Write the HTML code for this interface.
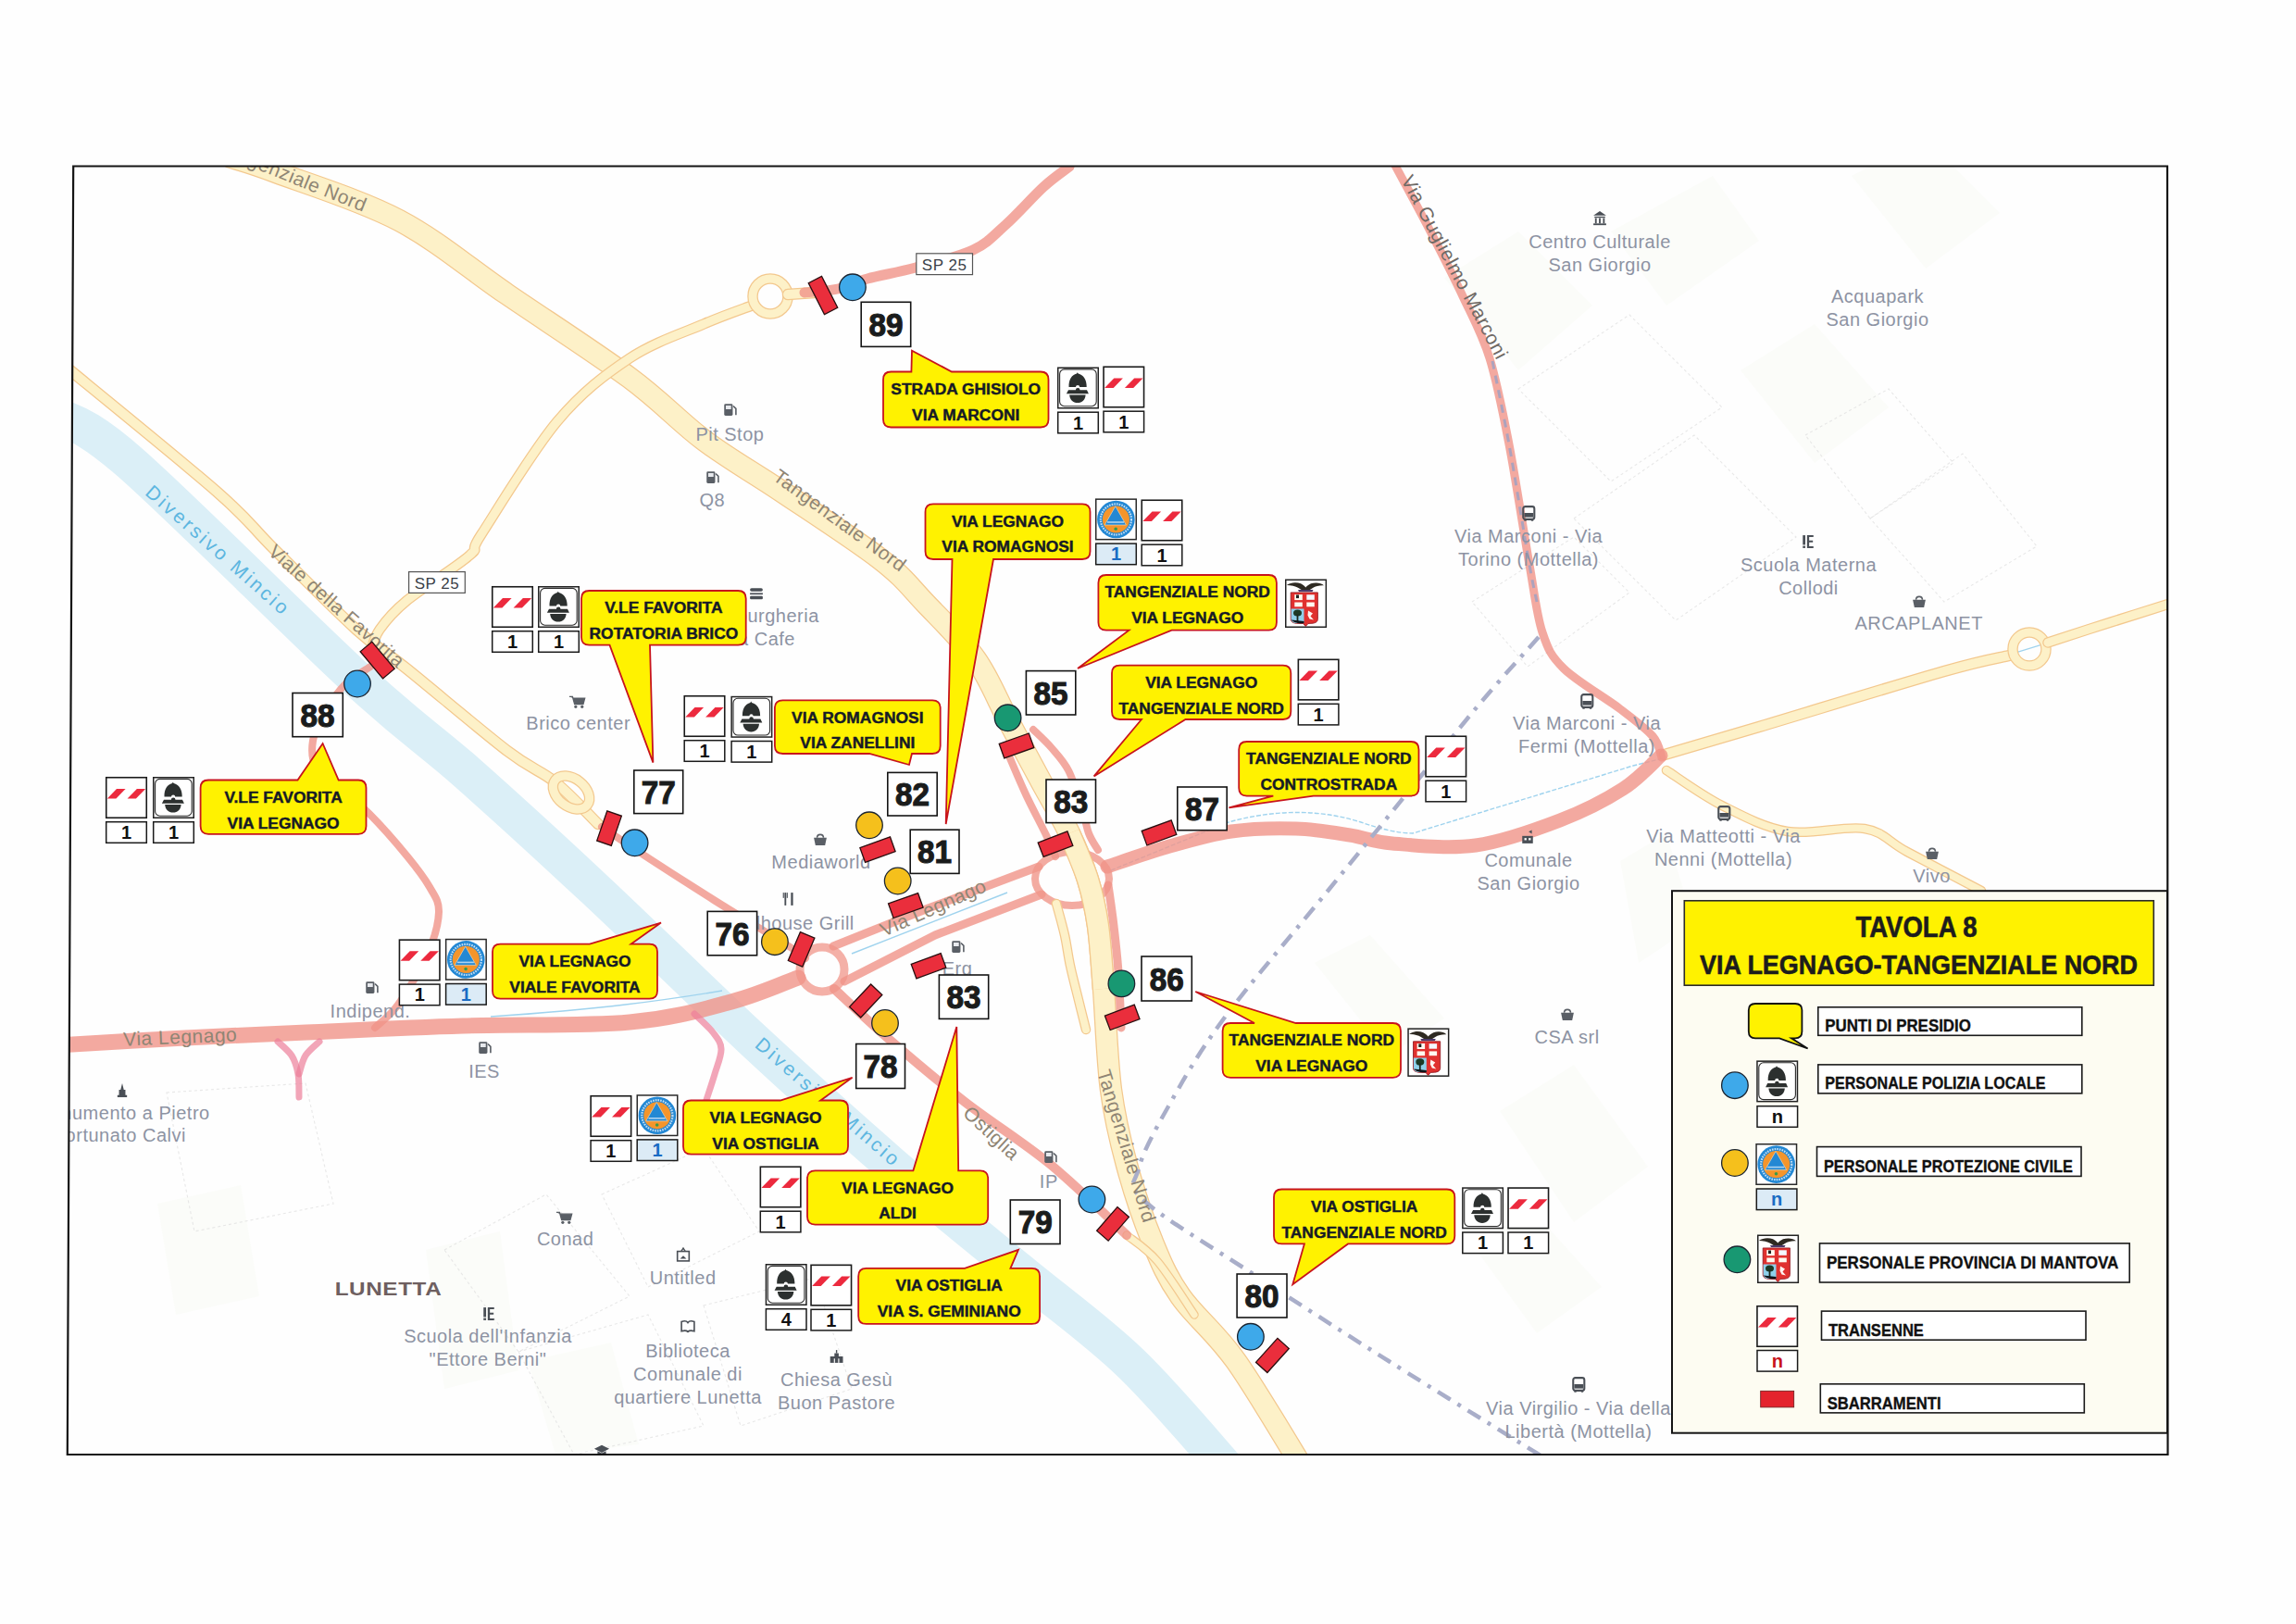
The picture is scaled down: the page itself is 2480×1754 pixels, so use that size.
<!DOCTYPE html>
<html><head><meta charset="utf-8"><style>
html,body{margin:0;padding:0;background:#fff;}
svg{display:block;font-family:"Liberation Sans",sans-serif;}
</style></head><body>
<svg width="2480" height="1754" viewBox="0 0 2480 1754">

<defs>
<clipPath id="mapclip"><path d="M79,180 L2341,180 L2341,1571 L73,1571 Z"/></clipPath>
<g id="ic_helmet">
  <rect x="0.75" y="0.75" width="43.5" height="43.5" fill="#fff" stroke="#222" stroke-width="1.5"/>
  <rect x="2.6" y="2.4" width="39.6" height="39.8" rx="5" fill="#fff" stroke="#2b2b2b" stroke-width="1.1"/>
  <path d="M12.5,21.5 C12.3,13.8 15.6,8.4 21,7.1 L21.8,5.8 L22.7,7.1 C28.1,8.4 31.9,13.8 31.7,21.5 L24.2,21.5 A2.1,2.1 0 0 0 20,21.5 Z" fill="#2c302f"/>
  <path d="M9.9,28.8 L12,24.7 L19.9,24.7 A2.3,2.3 0 0 1 24.5,24.7 L32,24.7 L33.9,28.8 Z" fill="#2c302f"/>
  <path d="M13.2,30 L30.6,30 C30.4,35.2 26.8,38.6 21.9,38.6 C17,38.6 13.4,35.2 13.2,30 Z" fill="#2c302f"/>
</g>
<g id="ic_trans">
  <rect x="0.75" y="0.75" width="43.5" height="43.5" fill="#fff" stroke="#1a1a1a" stroke-width="1.6"/>
  <path d="M1.8,23.4 L11.4,23.4 L21.6,12.9 L12,12.9 Z" fill="#ec2a3e"/>
  <path d="M23.6,23.4 L32.9,23.4 L43.2,12.9 L33.9,12.9 Z" fill="#ec2a3e"/>
</g>
<g id="ic_pc">
  <rect x="0.75" y="0.75" width="43.5" height="43.5" fill="#fff" stroke="#2a2a2a" stroke-width="1.5"/>
  <circle cx="22.4" cy="22.6" r="20.3" fill="#2388d4"/>
  <circle cx="22.4" cy="22.6" r="16.6" fill="none" stroke="#e8f3fb" stroke-width="2.2" stroke-dasharray="1.6 1.1" stroke-opacity="0.8"/>
  <circle cx="22.4" cy="22.6" r="14.6" fill="#f4952c"/>
  <path d="M21.8,8.4 L10.2,28.6 L33.4,28.6 Z" fill="#2388d4" stroke="#f9e0c0" stroke-width="0.6"/>
  <rect x="13" y="24.8" width="18" height="1.6" fill="#cfe6f7" opacity="0.8"/>
  <circle cx="22.2" cy="32.8" r="1.8" fill="#3a9a4a"/>
</g>
<g id="ic_prov">
  <rect x="0.75" y="0.75" width="43.6" height="51" fill="#fff" stroke="#222" stroke-width="1.5"/>
  <path d="M1.8,6.5 C6,3.5 12,2.8 17,4.8 C19.5,6.2 21,7.5 22.3,9 C23.6,7.5 25.5,6 28,4.8 C33,3.2 39,3.8 42,6.8 C38,6.5 33,7.4 30,9.5 C28,11 26,12.5 22.3,12.7 C18.5,12.5 16.5,11 14.5,9.5 C11.5,7.5 6,6.5 1.8,6.5 Z" fill="#2e2a22"/>
  <path d="M14,11.6 L30.5,11.6 L29.5,13.6 L15,13.6 Z" fill="#4a3a6a"/>
  <path d="M6.2,14.4 L35.4,14.4 L35.4,43 C35.4,46 33,47.5 29,47.8 L25,48 L22.3,51 L19.6,48 L12.5,47.8 C8.5,47.5 6.2,46 6.2,43 Z" fill="#e0312f" stroke="#8a1420" stroke-width="0.8"/>
  <rect x="10.3" y="16.6" width="8.5" height="6" fill="#fffaf0"/>
  <rect x="23.3" y="16.8" width="8.5" height="5.5" fill="#f4f8ff"/>
  <rect x="10.3" y="25" width="8.5" height="4.8" fill="#fffaf0"/>
  <rect x="23.3" y="25" width="8.5" height="4.8" fill="#fffaf0"/>
  <path d="M6.6,32 L20.5,32 L20.5,47.6 L12.5,47.6 C8.5,47.3 6.6,45.8 6.6,43 Z" fill="#8fd0ea"/>
  <ellipse cx="13.5" cy="36.5" rx="4.5" ry="3.6" fill="#1c3a26"/>
  <rect x="12.6" y="38" width="1.8" height="8" fill="#1c2a20"/>
  <path d="M6.8,44 C9,47 14,47.8 20.5,47.8 L20.5,45.5 Z" fill="#101418"/>
  <path d="M25,34 L30,37 L27.5,40 L31,44 L26.5,43 L24.5,39 Z" fill="#fff4f0"/>
  <rect x="12" y="17" width="3" height="3.6" fill="#222"/>
</g>
<g id="poi_fuel"><rect x="3" y="3" width="8" height="11" rx="1.2" fill="#5a5f66"/><rect x="4.5" y="4.5" width="5" height="3.5" fill="#e8eaee"/><path d="M11.5,5 L14,7.5 L14,13.5" fill="none" stroke="#5a5f66" stroke-width="1.4"/></g>
<g id="poi_cart"><path d="M1,4 L4,4 L6,11 L14,11 L15.5,5.5 L4.8,5.5" fill="#5a5f66" stroke="#5a5f66" stroke-width="1.2"/><circle cx="7" cy="13.5" r="1.4" fill="#5a5f66"/><circle cx="13" cy="13.5" r="1.4" fill="#5a5f66"/></g>
<g id="poi_basket"><path d="M2,7 L14,7 L12.5,14 L3.5,14 Z" fill="#5a5f66"/><path d="M5,7 C5,3 11,3 11,7" fill="none" stroke="#5a5f66" stroke-width="1.4"/></g>
<g id="poi_bus"><rect x="3" y="2" width="10.5" height="12" rx="2" fill="none" stroke="#4a4f56" stroke-width="1.8"/><rect x="4" y="8" width="8.5" height="4" fill="#4a4f56"/><rect x="4" y="14" width="2" height="1.6" fill="#4a4f56"/><rect x="10.5" y="14" width="2" height="1.6" fill="#4a4f56"/></g>
<g id="poi_museum"><path d="M2,6 L8,2 L14,6 Z" fill="#4a4f56"/><rect x="3" y="7" width="10" height="1.2" fill="#4a4f56"/><rect x="3.5" y="8.5" width="1.6" height="5" fill="#4a4f56"/><rect x="7.2" y="8.5" width="1.6" height="5" fill="#4a4f56"/><rect x="11" y="8.5" width="1.6" height="5" fill="#4a4f56"/><rect x="2" y="13.5" width="12" height="1.6" fill="#4a4f56"/></g>
<g id="poi_school"><rect x="3" y="2" width="2.4" height="9" fill="#4a4f56"/><rect x="3" y="12" width="2.4" height="2" fill="#4a4f56"/><path d="M7,2 L13,2 L13,3.6 L9,3.6 L9,7 L12.5,7 L12.5,8.6 L9,8.6 L9,12.4 L13,12.4 L13,14 L7,14 Z" fill="#4a4f56"/></g>
<g id="poi_food"><rect x="4" y="2" width="1.6" height="12" fill="#4a4f56"/><rect x="2.5" y="2" width="1" height="5" fill="#4a4f56"/><rect x="6" y="2" width="1" height="5" fill="#4a4f56"/><rect x="10" y="2" width="2" height="12" fill="#4a4f56"/></g>
<g id="poi_burger"><rect x="2" y="3" width="12" height="3" rx="1.5" fill="#4a4f56"/><rect x="2" y="7.5" width="12" height="1.5" fill="#4a4f56"/><rect x="2" y="10.5" width="12" height="3" rx="1" fill="#4a4f56"/></g>
<g id="poi_monument"><rect x="5" y="8" width="6" height="6" fill="#4a4f56"/><path d="M6.5,8 L8,2 L9.5,8 Z" fill="#4a4f56"/><rect x="3.5" y="13" width="9" height="2" fill="#4a4f56"/></g>
<g id="poi_gallery"><rect x="2.5" y="5" width="11" height="9" fill="none" stroke="#4a4f56" stroke-width="1.4"/><path d="M5,12 L8,9 L11,12 Z" fill="#4a4f56"/><path d="M6,5 L8,2 L10,5" fill="none" stroke="#4a4f56" stroke-width="1.2"/></g>
<g id="poi_book"><path d="M2,4 C5,3 7,3.5 8,5 C9,3.5 11,3 14,4 L14,13 C11,12 9,12.5 8,13.5 C7,12.5 5,12 2,13 Z" fill="none" stroke="#4a4f56" stroke-width="1.4"/></g>
<g id="poi_church"><rect x="2" y="8" width="12" height="6" fill="#4a4f56"/><rect x="6" y="5" width="4" height="3" fill="#4a4f56"/><rect x="7.4" y="2" width="1.2" height="3" fill="#4a4f56"/><rect x="5.5" y="10" width="1" height="4" fill="#fff"/><rect x="9.5" y="10" width="1" height="4" fill="#fff"/></g>
<g id="poi_town"><rect x="3" y="7" width="10" height="7" fill="#4a4f56"/><rect x="5" y="9" width="2" height="2" fill="#fff"/><rect x="9" y="9" width="2" height="2" fill="#fff"/><path d="M9,3 L12,1.5 L12,5 Z" fill="#4a4f56"/></g>
<g id="poi_grad"><path d="M1,7 L8,3.5 L15,7 L8,10.5 Z" fill="#4a4f56"/><path d="M4,9 L4,12 C6,13.5 10,13.5 12,12 L12,9 L8,11 Z" fill="#4a4f56"/></g>
</defs>

<rect x="0" y="0" width="2480" height="1754" fill="#fefefe"/>
<g clip-path="url(#mapclip)">
<polygon points="1560,300 1640,250 1720,330 1640,400" fill="#f0f5e8" opacity="0.22"/>
<polygon points="1740,250 1850,190 1900,260 1800,330" fill="#f0f5e8" opacity="0.22"/>
<polygon points="2000,190 2080,150 2160,230 2080,290" fill="#f0f5e8" opacity="0.22"/>
<polygon points="1880,400 1960,350 2040,440 1960,500" fill="#f0f5e8" opacity="0.22"/>
<polygon points="1750,930 1800,900 1830,1000 1770,1040" fill="#f0f5e8" opacity="0.22"/>
<polygon points="1420,1040 1480,1010 1560,1100 1500,1140" fill="#f0f5e8" opacity="0.22"/>
<polygon points="1620,1200 1700,1150 1780,1260 1700,1320" fill="#f0f5e8" opacity="0.22"/>
<polygon points="1580,1330 1640,1290 1730,1390 1660,1440" fill="#f0f5e8" opacity="0.22"/>
<polygon points="460,1350 540,1330 560,1480 480,1500" fill="#f0f5e8" opacity="0.22"/>
<polygon points="570,1470 660,1450 690,1560 600,1571" fill="#f0f5e8" opacity="0.22"/>
<polygon points="170,1300 260,1280 280,1400 190,1420" fill="#f0f5e8" opacity="0.22"/>
<polygon points="1640,420 1760,340 1860,440 1740,520" fill="none" stroke="#dedede" stroke-width="1.1" stroke-dasharray="3 3" opacity="0.7"/>
<polygon points="1700,560 1830,470 1940,580 1810,670" fill="none" stroke="#dedede" stroke-width="1.1" stroke-dasharray="3 3" opacity="0.7"/>
<polygon points="2020,560 2120,490 2200,590 2100,650" fill="none" stroke="#dedede" stroke-width="1.1" stroke-dasharray="3 3" opacity="0.7"/>
<polygon points="1590,650 1700,580 1760,640 1650,720" fill="none" stroke="#dedede" stroke-width="1.1" stroke-dasharray="3 3" opacity="0.7"/>
<polygon points="1950,470 2040,420 2110,500 2020,560" fill="none" stroke="#dedede" stroke-width="1.1" stroke-dasharray="3 3" opacity="0.7"/>
<polygon points="480,1350 590,1290 680,1400 560,1460" fill="none" stroke="#dedede" stroke-width="1.1" stroke-dasharray="3 3" opacity="0.7"/>
<polygon points="650,1290 760,1240 820,1330 700,1390" fill="none" stroke="#dedede" stroke-width="1.1" stroke-dasharray="3 3" opacity="0.7"/>
<polygon points="180,1180 330,1170 360,1300 210,1330" fill="none" stroke="#dedede" stroke-width="1.1" stroke-dasharray="3 3" opacity="0.7"/>
<polygon points="560,1460 700,1420 760,1540 620,1571" fill="none" stroke="#dedede" stroke-width="1.1" stroke-dasharray="3 3" opacity="0.7"/>
<polygon points="760,1410 880,1380 920,1500 800,1540" fill="none" stroke="#dedede" stroke-width="1.1" stroke-dasharray="3 3" opacity="0.7"/>
<path d="M60,448 C73.5,456.7 86.8,452.5 141,500 C195.2,547.5 324.3,677.2 385,733 C445.7,788.8 462.2,797.2 505,835 C547.8,872.8 590.8,912.2 642,960 C693.2,1007.8 758.5,1072.3 812,1122 C865.5,1171.7 915,1216.3 963,1258 C1011,1299.7 1057,1336.3 1100,1372 C1143,1407.7 1182.7,1435.3 1221,1472 C1259.3,1508.7 1311.8,1572 1330,1592" fill="none" stroke="#dbeff7" stroke-width="40" stroke-linecap="butt"/>
<path d="M530,1098 C650,1090 720,1080 780,1070" fill="none" stroke="#9fd3ee" stroke-width="1.4"/>
<path d="M920,1030 L1088,964" fill="none" stroke="#9fd3ee" stroke-width="1.4"/>
<path d="M1200,940 L1327,888 C1370,876 1420,872 1470,888 C1490,895 1510,900 1526,900 L1764,827 L1800,818" fill="none" stroke="#9fd3ee" stroke-width="1.4" stroke-dasharray="5 2"/>
<path d="M1900,790 L2340,655" fill="none" stroke="#9fd3ee" stroke-width="1.2"/>
<path d="M250,170 C258,172.7 267.8,174.7 298,186 C328.2,197.3 389.3,216 431,238 C472.7,260 506.5,289.7 548,318 C589.5,346.3 644.5,381.7 680,408 C715.5,434.3 733.8,455.7 761,476 C788.2,496.3 811.3,508.7 843,530 C874.7,551.3 924.8,583.7 951,604 C977.2,624.3 982.8,634 1000,652 C1017.2,670 1039.2,691 1054,712 C1068.8,733 1077.2,755.8 1089,778 C1100.8,800.2 1114,824.7 1125,845 C1136,865.3 1146.7,882.5 1155,900 C1163.3,917.5 1169.8,933.3 1175,950 C1180.2,966.7 1183.2,980.3 1186,1000 C1188.8,1019.7 1189.7,1038.5 1192,1068 C1194.3,1097.5 1195.8,1145.3 1200,1177 C1204.2,1208.7 1209.7,1231 1217,1258 C1224.3,1285 1234.3,1315.3 1244,1339 C1253.7,1362.7 1259.8,1378.2 1275,1400 C1290.2,1421.8 1312.5,1438.3 1335,1470 C1357.5,1501.7 1397.5,1570 1410,1590" fill="none" stroke="#f3c88e" stroke-width="24.5" stroke-linecap="round" stroke-linejoin="round"/>
<path d="M250,170 C258,172.7 267.8,174.7 298,186 C328.2,197.3 389.3,216 431,238 C472.7,260 506.5,289.7 548,318 C589.5,346.3 644.5,381.7 680,408 C715.5,434.3 733.8,455.7 761,476 C788.2,496.3 811.3,508.7 843,530 C874.7,551.3 924.8,583.7 951,604 C977.2,624.3 982.8,634 1000,652 C1017.2,670 1039.2,691 1054,712 C1068.8,733 1077.2,755.8 1089,778 C1100.8,800.2 1114,824.7 1125,845 C1136,865.3 1146.7,882.5 1155,900 C1163.3,917.5 1169.8,933.3 1175,950 C1180.2,966.7 1183.2,980.3 1186,1000 C1188.8,1019.7 1189.7,1038.5 1192,1068 C1194.3,1097.5 1195.8,1145.3 1200,1177 C1204.2,1208.7 1209.7,1231 1217,1258 C1224.3,1285 1234.3,1315.3 1244,1339 C1253.7,1362.7 1259.8,1378.2 1275,1400 C1290.2,1421.8 1312.5,1438.3 1335,1470 C1357.5,1501.7 1397.5,1570 1410,1590" fill="none" stroke="#fdf1c8" stroke-width="22" stroke-linecap="round" stroke-linejoin="round"/>
<path d="M60,387 C88.8,410.8 193.7,495.7 233,530 C272.3,564.3 270.7,568 296,593 C321.3,618 361.2,658.5 385,680 C408.8,701.5 411.8,700.2 439,722 C466.2,743.8 521.2,790.5 548,811 C574.8,831.5 583.7,831.8 600,845 C616.3,858.2 638.3,882.5 646,890" fill="none" stroke="#f3c88e" stroke-width="12.5" stroke-linecap="round" stroke-linejoin="round"/>
<path d="M60,387 C88.8,410.8 193.7,495.7 233,530 C272.3,564.3 270.7,568 296,593 C321.3,618 361.2,658.5 385,680 C408.8,701.5 411.8,700.2 439,722 C466.2,743.8 521.2,790.5 548,811 C574.8,831.5 583.7,831.8 600,845 C616.3,858.2 638.3,882.5 646,890" fill="none" stroke="#fdf1c8" stroke-width="10" stroke-linecap="round" stroke-linejoin="round"/>
<ellipse cx="617" cy="856" rx="22" ry="15" transform="rotate(38 617 856)" fill="none" stroke="#f3c88e" stroke-width="11.5"/>
<ellipse cx="617" cy="856" rx="22" ry="15" transform="rotate(38 617 856)" fill="none" stroke="#fdf1c8" stroke-width="9"/>
<path d="M812,330 C803.3,333.3 782,340.5 760,350 C738,359.5 706.3,369.5 680,387 C653.7,404.5 628.7,423.3 602,455 C575.3,486.7 535.8,552.8 520,577 C504.2,601.2 520.5,588 507,600 C493.5,612 455.2,635.7 439,649 C422.8,662.3 416.5,670.7 410,680 C403.5,689.3 401.7,700.8 400,705" fill="none" stroke="#f3c88e" stroke-width="11.5" stroke-linecap="round" stroke-linejoin="round"/>
<path d="M812,330 C803.3,333.3 782,340.5 760,350 C738,359.5 706.3,369.5 680,387 C653.7,404.5 628.7,423.3 602,455 C575.3,486.7 535.8,552.8 520,577 C504.2,601.2 520.5,588 507,600 C493.5,612 455.2,635.7 439,649 C422.8,662.3 416.5,670.7 410,680 C403.5,689.3 401.7,700.8 400,705" fill="none" stroke="#fdf1c8" stroke-width="9" stroke-linecap="round" stroke-linejoin="round"/>
<circle cx="832" cy="320" r="19" fill="none" stroke="#f3c88e" stroke-width="11.5"/>
<circle cx="832" cy="320" r="19" fill="none" stroke="#fdf1c8" stroke-width="9"/>
<path d="M851,318 L880,316" fill="none" stroke="#f3c88e" stroke-width="12.5" stroke-linecap="round" stroke-linejoin="round"/>
<path d="M851,318 L880,316" fill="none" stroke="#fdf1c8" stroke-width="10" stroke-linecap="round" stroke-linejoin="round"/>
<path d="M1798,815 C1815,810 1849.7,800 1900,785 C1950.3,770 2055,737.8 2100,725 C2145,712.2 2158.3,710.8 2170,708" fill="none" stroke="#f3c88e" stroke-width="12.5" stroke-linecap="round" stroke-linejoin="round"/>
<path d="M1798,815 C1815,810 1849.7,800 1900,785 C1950.3,770 2055,737.8 2100,725 C2145,712.2 2158.3,710.8 2170,708" fill="none" stroke="#fdf1c8" stroke-width="10" stroke-linecap="round" stroke-linejoin="round"/>
<circle cx="2192" cy="701" r="18" fill="none" stroke="#f3c88e" stroke-width="11.5"/>
<circle cx="2192" cy="701" r="18" fill="none" stroke="#fdf1c8" stroke-width="9"/>
<path d="M2212,694 C2223.3,690.3 2257,679.3 2280,672 C2303,664.7 2338.3,653.7 2350,650" fill="none" stroke="#f3c88e" stroke-width="11.5" stroke-linecap="round" stroke-linejoin="round"/>
<path d="M2212,694 C2223.3,690.3 2257,679.3 2280,672 C2303,664.7 2338.3,653.7 2350,650" fill="none" stroke="#fdf1c8" stroke-width="9" stroke-linecap="round" stroke-linejoin="round"/>
<path d="M1800,832 C1810,838.3 1838.2,859 1860,870 C1881.8,881 1905.3,893.8 1931,898 C1956.7,902.2 1992.5,891.3 2014,895 C2035.5,898.7 2039,908.8 2060,920 C2081,931.2 2126.7,955 2140,962" fill="none" stroke="#f3c88e" stroke-width="10.5" stroke-linecap="round" stroke-linejoin="round"/>
<path d="M1800,832 C1810,838.3 1838.2,859 1860,870 C1881.8,881 1905.3,893.8 1931,898 C1956.7,902.2 1992.5,891.3 2014,895 C2035.5,898.7 2039,908.8 2060,920 C2081,931.2 2126.7,955 2140,962" fill="none" stroke="#fdf1c8" stroke-width="8" stroke-linecap="round" stroke-linejoin="round"/>
<path d="M1217,1334 C1222.5,1338.7 1237.8,1347.7 1250,1362 C1262.2,1376.3 1283.3,1410.3 1290,1420" fill="none" stroke="#f3c88e" stroke-width="9.5" stroke-linecap="round" stroke-linejoin="round"/>
<path d="M1217,1334 C1222.5,1338.7 1237.8,1347.7 1250,1362 C1262.2,1376.3 1283.3,1410.3 1290,1420" fill="none" stroke="#fdf1c8" stroke-width="7" stroke-linecap="round" stroke-linejoin="round"/>
<path d="M869,316 C875,315.3 893.7,314.5 905,312 C916.3,309.5 923,304.8 937,301 C951,297.2 970,294.2 989,289 C1008,283.8 1034.8,277.7 1051,270 C1067.2,262.3 1073.3,254.3 1086,243 C1098.7,231.7 1115.5,212.5 1127,202 C1138.5,191.5 1150.3,183.7 1155,180" fill="none" stroke="#f09488" stroke-opacity="0.8" stroke-width="11" stroke-linecap="round" stroke-linejoin="round"/>
<path d="M400,720 C395.3,723.3 380,732 372,740 C364,748 357.7,758 352,768 C346.3,778 339.7,789.7 338,800 C336.3,810.3 336.7,820.8 342,830 C347.3,839.2 360.5,846.8 370,855 C379.5,863.2 387.3,867.3 399,879 C410.7,890.7 429.2,911.8 440,925 C450.8,938.2 458.3,948 464,958 C469.7,968 474.3,973 474,985 C473.7,997 469.3,1013.3 462,1030 C454.7,1046.7 439.5,1071.7 430,1085 C420.5,1098.3 409.2,1105.8 405,1110" fill="none" stroke="#f09488" stroke-opacity="0.8" stroke-width="8" stroke-linecap="round" stroke-linejoin="round"/>
<path d="M650,893 C656.7,897.5 669.8,906.8 690,920 C710.2,933.2 744,955 771,972 C798,989 835.5,1011.5 852,1022 C868.5,1032.5 867,1032.8 870,1035" fill="none" stroke="#f09488" stroke-opacity="0.8" stroke-width="8" stroke-linecap="round" stroke-linejoin="round"/>
<path d="M60,1129 C83.3,1127.7 154.8,1123.3 200,1121 C245.2,1118.7 281,1117.2 331,1115 C381,1112.8 441.8,1109.8 500,1108 C558.2,1106.2 631.7,1108.3 680,1104 C728.3,1099.7 759.7,1090 790,1082 C820.3,1074 850,1060.3 862,1056" fill="none" stroke="#f09488" stroke-opacity="0.8" stroke-width="17" stroke-linecap="round" stroke-linejoin="round"/>
<circle cx="888" cy="1047" r="24" fill="none" stroke="#f0968a" stroke-opacity="0.75" stroke-width="9"/>
<path d="M900,1022 L1000,982 L1122,936" fill="none" stroke="#f09488" stroke-opacity="0.8" stroke-width="9" stroke-linecap="round" stroke-linejoin="round"/>
<path d="M912,1060 L1010,1010 L1125,966" fill="none" stroke="#f09488" stroke-opacity="0.8" stroke-width="9" stroke-linecap="round" stroke-linejoin="round"/>
<ellipse cx="1158" cy="949" rx="40" ry="29" fill="none" stroke="#f0968a" stroke-opacity="0.8" stroke-width="8"/>
<path d="M1196,936 C1206.7,932.5 1237.7,921.3 1260,915 C1282.3,908.7 1306.7,901.3 1330,898 C1353.3,894.7 1378.7,894.3 1400,895 C1421.3,895.7 1440.7,899.3 1458,902 C1475.3,904.7 1481.3,909.2 1504,911 C1526.7,912.8 1563.8,917.2 1594,913 C1624.2,908.8 1658.5,896.2 1685,886 C1711.5,875.8 1734.8,863.7 1753,852 C1771.2,840.3 1787.2,822 1794,816" fill="none" stroke="#f09488" stroke-opacity="0.8" stroke-width="15" stroke-linecap="round" stroke-linejoin="round"/>
<path d="M1505,175 C1511.7,187.5 1532.5,225.8 1545,250 C1557.5,274.2 1569.3,297.2 1580,320 C1590.7,342.8 1600.7,360.3 1609,387 C1617.3,413.7 1622.8,442.8 1630,480 C1637.2,517.2 1646,576.2 1652,610 C1658,643.8 1659.8,664.3 1666,683 C1672.2,701.7 1675.2,708.3 1689,722 C1702.8,735.7 1733,752.8 1749,765 C1765,777.2 1777.3,786.2 1785,795 C1792.7,803.8 1793.3,814.2 1795,818" fill="none" stroke="#f09488" stroke-opacity="0.8" stroke-width="9" stroke-linecap="round" stroke-linejoin="round"/>
<path d="M901,1068 C911,1077.2 937.5,1102.7 961,1123 C984.5,1143.3 1013,1167.5 1042,1190 C1071,1212.5 1105.8,1234 1135,1258 C1164.2,1282 1203.3,1321.3 1217,1334" fill="none" stroke="#f09488" stroke-opacity="0.8" stroke-width="10" stroke-linecap="round" stroke-linejoin="round"/>
<path d="M1088,812 C1091.3,819.7 1101,843 1108,858 C1115,873 1124.7,890.8 1130,902 C1135.3,913.2 1138.3,921.2 1140,925" fill="none" stroke="#f09488" stroke-opacity="0.8" stroke-width="8" stroke-linecap="round" stroke-linejoin="round"/>
<path d="M1116,788 C1119.3,791.3 1129.7,800.7 1136,808 C1142.3,815.3 1148.7,821.7 1154,832 C1159.3,842.3 1164.3,858.7 1168,870 C1171.7,881.3 1173,892 1176,900 C1179,908 1184.3,915 1186,918" fill="none" stroke="#f09488" stroke-opacity="0.8" stroke-width="8" stroke-linecap="round" stroke-linejoin="round"/>
<path d="M1197,956 C1198,963.3 1201.2,984.3 1203,1000 C1204.8,1015.7 1206.7,1031.7 1208,1050 C1209.3,1068.3 1210.5,1100 1211,1110" fill="none" stroke="#f09488" stroke-opacity="0.8" stroke-width="9" stroke-linecap="round" stroke-linejoin="round"/>
<path d="M300,1125 C302.5,1127.5 311.3,1134.2 315,1140 C318.7,1145.8 320.7,1152.5 322,1160 C323.3,1167.5 322.8,1180.8 323,1185" fill="none" stroke="#ec7f9a" stroke-opacity="0.7" stroke-width="7" stroke-linecap="round" stroke-linejoin="round"/>
<path d="M345,1125 C342.5,1127.5 333.7,1134.2 330,1140 C326.3,1145.8 324.2,1156.7 323,1160" fill="none" stroke="#ec7f9a" stroke-opacity="0.7" stroke-width="7" stroke-linecap="round" stroke-linejoin="round"/>
<path d="M750,1095 C753.3,1098.3 765.2,1108.7 770,1115 C774.8,1121.3 778.7,1125.5 779,1133 C779.3,1140.5 774.7,1150.8 772,1160 C769.3,1169.2 764.5,1183.3 763,1188" fill="none" stroke="#ec7f9a" stroke-opacity="0.7" stroke-width="7" stroke-linecap="round" stroke-linejoin="round"/>
<path d="M1155,900 C1158.3,908.3 1169.8,933.3 1175,950 C1180.2,966.7 1183.2,980.3 1186,1000 C1188.8,1019.7 1191,1056.7 1192,1068" fill="none" stroke="#f3c88e" stroke-width="24.5" stroke-linecap="butt" stroke-linejoin="round"/>
<path d="M1155,900 C1158.3,908.3 1169.8,933.3 1175,950 C1180.2,966.7 1183.2,980.3 1186,1000 C1188.8,1019.7 1191,1056.7 1192,1068" fill="none" stroke="#fdf1c8" stroke-width="22" stroke-linecap="butt" stroke-linejoin="round"/>
<path d="M1141,976 C1142.5,981.7 1147.5,998.8 1150,1010 C1152.5,1021.2 1153.5,1031.3 1156,1043 C1158.5,1054.7 1162.2,1068.5 1165,1080 C1167.8,1091.5 1171.7,1106.7 1173,1112" fill="none" stroke="#f3c88e" stroke-width="10.5" stroke-linecap="round" stroke-linejoin="round"/>
<path d="M1141,976 C1142.5,981.7 1147.5,998.8 1150,1010 C1152.5,1021.2 1153.5,1031.3 1156,1043 C1158.5,1054.7 1162.2,1068.5 1165,1080 C1167.8,1091.5 1171.7,1106.7 1173,1112" fill="none" stroke="#fdf1c8" stroke-width="8" stroke-linecap="round" stroke-linejoin="round"/>
<path d="M1612,390 C1615,405 1623.3,443.3 1630,480 C1636.7,516.7 1647,581.7 1652,610 C1657,638.3 1658.7,643.3 1660,650" fill="none" stroke="#9aa0c4" stroke-width="3" stroke-dasharray="9 7" opacity="0.8"/>
<path d="M1662,688 C1651.7,699.7 1621.2,733 1600,758 C1578.8,783 1562.3,804.3 1535,838 C1507.7,871.7 1471.5,916.3 1436,960 C1400.5,1003.7 1351,1060.8 1322,1100 C1293,1139.2 1277.3,1168 1262,1195 C1246.7,1222 1234.3,1245 1230,1262 C1225.7,1279 1215.7,1278.2 1236,1297 C1256.3,1315.8 1308,1346.2 1352,1375 C1396,1403.8 1448,1437.2 1500,1470 C1552,1502.8 1636.7,1555 1664,1572" fill="none" stroke="#a9aec9" stroke-width="4.5" stroke-dasharray="16 9 4 9"/>
<rect x="989.8" y="273.8" width="60.7" height="22.8" fill="#fff" stroke="#555" stroke-width="1.2"/>
<text x="1020.1" y="291.8" font-size="17" fill="#3a3f48" text-anchor="middle" font-weight="normal" letter-spacing="0.5">SP 25</text>
<rect x="441.6" y="617.6" width="60.7" height="22.8" fill="#fff" stroke="#555" stroke-width="1.2"/>
<text x="471.9" y="635.6" font-size="17" fill="#3a3f48" text-anchor="middle" font-weight="normal" letter-spacing="0.5">SP 25</text>
<text x="313" y="197" font-size="21" fill="#8f8574" text-anchor="middle" font-weight="normal" letter-spacing="0.5" transform="rotate(22 313 197)">Tangenziale Nord</text>
<text x="903" y="568" font-size="21" fill="#8f8574" text-anchor="middle" font-weight="normal" letter-spacing="0.5" transform="rotate(36 903 568)">Tangenziale Nord</text>
<text x="359" y="660" font-size="21" fill="#8f8574" text-anchor="middle" font-weight="normal" letter-spacing="0.5" transform="rotate(41.5 359 660)">Viale della Favorita</text>
<text x="231" y="600" font-size="21" fill="#5db6e0" text-anchor="middle" font-weight="normal" letter-spacing="3" transform="rotate(41.5 231 600)">Diversivo Mincio</text>
<text x="890" y="1196" font-size="21" fill="#5db6e0" text-anchor="middle" font-weight="normal" letter-spacing="3" transform="rotate(41 890 1196)">Diversivo Mincio</text>
<text x="195" y="1127" font-size="21" fill="#8f8574" text-anchor="middle" font-weight="normal" letter-spacing="0.5" transform="rotate(-2.5 195 1127)">Via Legnago</text>
<text x="1011" y="987" font-size="21" fill="#8f8574" text-anchor="middle" font-weight="normal" letter-spacing="0.5" transform="rotate(-24 1011 987)">Via Legnago</text>
<text x="1066" y="1229" font-size="21" fill="#8f8574" text-anchor="middle" font-weight="normal" letter-spacing="0.5" transform="rotate(43 1066 1229)">Ostiglia</text>
<text x="1210" y="1240" font-size="21" fill="#8f8574" text-anchor="middle" font-weight="normal" letter-spacing="0.5" transform="rotate(73 1210 1240)">Tangenziale Nord</text>
<text x="1565" y="292" font-size="21" fill="#6f6a66" text-anchor="middle" font-weight="normal" letter-spacing="0.5" transform="rotate(62 1565 292)">Via Guglielmo Marconi</text>
<text x="1728" y="267.8" font-size="20" fill="#8d93a3" text-anchor="middle" font-weight="normal" letter-spacing="0.5">Centro Culturale</text>
<text x="1728" y="292.8" font-size="20" fill="#8d93a3" text-anchor="middle" font-weight="normal" letter-spacing="0.5">San Giorgio</text>
<use href="#poi_museum" transform="translate(1718.8 225.8) scale(1.15)"/>
<text x="2028" y="326.8" font-size="20" fill="#8d93a3" text-anchor="middle" font-weight="normal" letter-spacing="0.5">Acquapark</text>
<text x="2028" y="351.8" font-size="20" fill="#8d93a3" text-anchor="middle" font-weight="normal" letter-spacing="0.5">San Giorgio</text>
<text x="1651" y="585.8" font-size="20" fill="#8d93a3" text-anchor="middle" font-weight="normal" letter-spacing="0.5">Via Marconi - Via</text>
<text x="1651" y="610.8" font-size="20" fill="#8d93a3" text-anchor="middle" font-weight="normal" letter-spacing="0.5">Torino (Mottella)</text>
<use href="#poi_bus" transform="translate(1641.8 544.8) scale(1.15)"/>
<text x="1953.5" y="616.8" font-size="20" fill="#8d93a3" text-anchor="middle" font-weight="normal" letter-spacing="0.5">Scuola Materna</text>
<text x="1953.5" y="641.8" font-size="20" fill="#8d93a3" text-anchor="middle" font-weight="normal" letter-spacing="0.5">Collodi</text>
<use href="#poi_school" transform="translate(1943.8 575.8) scale(1.15)"/>
<text x="2072.7" y="680.3" font-size="20" fill="#8d93a3" text-anchor="middle" font-weight="normal" letter-spacing="0.5">ARCAPLANET</text>
<use href="#poi_basket" transform="translate(2063.8 639.8) scale(1.15)"/>
<text x="1714" y="787.8" font-size="20" fill="#8d93a3" text-anchor="middle" font-weight="normal" letter-spacing="0.5">Via Marconi - Via</text>
<text x="1714" y="812.8" font-size="20" fill="#8d93a3" text-anchor="middle" font-weight="normal" letter-spacing="0.5">Fermi (Mottella)</text>
<use href="#poi_bus" transform="translate(1704.8 747.8) scale(1.15)"/>
<text x="1861.5" y="909.8" font-size="20" fill="#8d93a3" text-anchor="middle" font-weight="normal" letter-spacing="0.5">Via Matteotti - Via</text>
<text x="1861.5" y="934.8" font-size="20" fill="#8d93a3" text-anchor="middle" font-weight="normal" letter-spacing="0.5">Nenni (Mottella)</text>
<use href="#poi_bus" transform="translate(1852.8 868.8) scale(1.15)"/>
<text x="2086.6" y="952.8" font-size="20" fill="#8d93a3" text-anchor="middle" font-weight="normal" letter-spacing="0.5">Vivo</text>
<use href="#poi_basket" transform="translate(2077.8 911.8) scale(1.15)"/>
<text x="1651" y="935.8" font-size="20" fill="#8d93a3" text-anchor="middle" font-weight="normal" letter-spacing="0.5">Comunale</text>
<text x="1651" y="960.8" font-size="20" fill="#8d93a3" text-anchor="middle" font-weight="normal" letter-spacing="0.5">San Giorgio</text>
<use href="#poi_town" transform="translate(1640.8 894.8) scale(1.15)"/>
<text x="1692.6" y="1126.8" font-size="20" fill="#8d93a3" text-anchor="middle" font-weight="normal" letter-spacing="0.5">CSA srl</text>
<use href="#poi_basket" transform="translate(1683.8 1085.8) scale(1.15)"/>
<text x="1705" y="1527.8" font-size="20" fill="#8d93a3" text-anchor="middle" font-weight="normal" letter-spacing="0.5">Via Virgilio - Via della</text>
<text x="1705" y="1552.8" font-size="20" fill="#8d93a3" text-anchor="middle" font-weight="normal" letter-spacing="0.5">Libertà (Mottella)</text>
<use href="#poi_bus" transform="translate(1695.8 1485.8) scale(1.15)"/>
<text x="788.4" y="476.3" font-size="20" fill="#8d93a3" text-anchor="middle" font-weight="normal" letter-spacing="0.5">Pit Stop</text>
<use href="#poi_fuel" transform="translate(778.8 432.8) scale(1.15)"/>
<text x="769.4" y="546.8" font-size="20" fill="#8d93a3" text-anchor="middle" font-weight="normal" letter-spacing="0.5">Q8</text>
<use href="#poi_fuel" transform="translate(759.8 505.8) scale(1.15)"/>
<text x="624.7" y="787.8" font-size="20" fill="#8d93a3" text-anchor="middle" font-weight="normal" letter-spacing="0.5">Brico center</text>
<use href="#poi_cart" transform="translate(613.8 747.8) scale(1.15)"/>
<text x="884.8" y="672" font-size="20" fill="#8d93a3" text-anchor="end" font-weight="normal" letter-spacing="0.5">Hamburgheria</text>
<text x="859" y="697" font-size="20" fill="#8d93a3" text-anchor="end" font-weight="normal" letter-spacing="0.5">Bella Cafe</text>
<use href="#poi_burger" transform="translate(807.8 631.8) scale(1.15)"/>
<text x="887" y="937.8" font-size="20" fill="#8d93a3" text-anchor="middle" font-weight="normal" letter-spacing="0.5">Mediaworld</text>
<use href="#poi_basket" transform="translate(876.8 896.8) scale(1.15)"/>
<text x="922.8" y="1004" font-size="20" fill="#8d93a3" text-anchor="end" font-weight="normal" letter-spacing="0.5">Roadhouse Grill</text>
<use href="#poi_food" transform="translate(842.8 961.8) scale(1.15)"/>
<text x="1034" y="1052.8" font-size="20" fill="#8d93a3" text-anchor="middle" font-weight="normal" letter-spacing="0.5">Erg</text>
<use href="#poi_fuel" transform="translate(1024.8 1012.8) scale(1.15)"/>
<text x="1132.8" y="1282.8" font-size="20" fill="#8d93a3" text-anchor="middle" font-weight="normal" letter-spacing="0.5">IP</text>
<use href="#poi_fuel" transform="translate(1124.8 1239.8) scale(1.15)"/>
<text x="400" y="1098.8" font-size="20" fill="#8d93a3" text-anchor="middle" font-weight="normal" letter-spacing="0.5">Indipend.</text>
<use href="#poi_fuel" transform="translate(391.8 1056.8) scale(1.15)"/>
<text x="523" y="1163.8" font-size="20" fill="#8d93a3" text-anchor="middle" font-weight="normal" letter-spacing="0.5">IES</text>
<use href="#poi_fuel" transform="translate(513.8 1121.8) scale(1.15)"/>
<text x="226.7" y="1209" font-size="20" fill="#8d93a3" text-anchor="end" font-weight="normal" letter-spacing="0.5">Monumento a Pietro</text>
<text x="201" y="1233" font-size="20" fill="#8d93a3" text-anchor="end" font-weight="normal" letter-spacing="0.5">Fortunato Calvi</text>
<use href="#poi_monument" transform="translate(122.8 1167.8) scale(1.15)"/>
<text x="419.5" y="1398.5" font-size="20.5" fill="#6e5f60" text-anchor="middle" font-weight="bold" letter-spacing="0.5" textLength="115.7" lengthAdjust="spacingAndGlyphs">LUNETTA</text>
<text x="610.6" y="1344.8" font-size="20" fill="#8d93a3" text-anchor="middle" font-weight="normal" letter-spacing="0.5">Conad</text>
<use href="#poi_cart" transform="translate(599.8 1304.8) scale(1.15)"/>
<text x="737.6" y="1386.8" font-size="20" fill="#8d93a3" text-anchor="middle" font-weight="normal" letter-spacing="0.5">Untitled</text>
<use href="#poi_gallery" transform="translate(728.8 1345.8) scale(1.15)"/>
<text x="527" y="1449.8" font-size="20" fill="#8d93a3" text-anchor="middle" font-weight="normal" letter-spacing="0.5">Scuola dell'Infanzia</text>
<text x="527" y="1474.8" font-size="20" fill="#8d93a3" text-anchor="middle" font-weight="normal" letter-spacing="0.5">"Ettore Berni"</text>
<use href="#poi_school" transform="translate(518.8 1409.8) scale(1.15)"/>
<text x="743" y="1465.8" font-size="20" fill="#8d93a3" text-anchor="middle" font-weight="normal" letter-spacing="0.5">Biblioteca</text>
<text x="743" y="1490.8" font-size="20" fill="#8d93a3" text-anchor="middle" font-weight="normal" letter-spacing="0.5">Comunale di</text>
<text x="743" y="1515.8" font-size="20" fill="#8d93a3" text-anchor="middle" font-weight="normal" letter-spacing="0.5">quartiere Lunetta</text>
<use href="#poi_book" transform="translate(733.8 1422.8) scale(1.15)"/>
<text x="903.6" y="1496.8" font-size="20" fill="#8d93a3" text-anchor="middle" font-weight="normal" letter-spacing="0.5">Chiesa Gesù</text>
<text x="903.6" y="1521.8" font-size="20" fill="#8d93a3" text-anchor="middle" font-weight="normal" letter-spacing="0.5">Buon Pastore</text>
<use href="#poi_church" transform="translate(894.4 1455.8) scale(1.15)"/>
<use href="#poi_grad" transform="translate(640.8 1556.8) scale(1.15)"/>
</g>
<path d="M79.2,179.5 L2341,179.5 L2341.5,1571 L72.8,1571 Z" fill="none" stroke="#141414" stroke-width="2.2"/>
<rect x="-19" y="-8" width="38" height="16" fill="#ea2e3c" stroke="#2a0f10" stroke-width="1.3" transform="translate(889 319) rotate(63)"/>
<rect x="-19" y="-8.2" width="38" height="16.5" fill="#ea2e3c" stroke="#2a0f10" stroke-width="1.3" transform="translate(407.7 713) rotate(50)"/>
<rect x="-17" y="-8.2" width="34" height="16.5" fill="#ea2e3c" stroke="#2a0f10" stroke-width="1.3" transform="translate(658 894.6) rotate(-71)"/>
<rect x="-17.3" y="-8.4" width="34.6" height="16.8" fill="#ea2e3c" stroke="#2a0f10" stroke-width="1.3" transform="translate(948 917.6) rotate(-19.7)"/>
<rect x="-17" y="-8.2" width="34" height="16.5" fill="#ea2e3c" stroke="#2a0f10" stroke-width="1.3" transform="translate(978.3 978) rotate(-19.6)"/>
<rect x="-17" y="-8.2" width="34" height="16.5" fill="#ea2e3c" stroke="#2a0f10" stroke-width="1.3" transform="translate(1098 805.4) rotate(-19.6)"/>
<rect x="-17" y="-8.2" width="34" height="16.5" fill="#ea2e3c" stroke="#2a0f10" stroke-width="1.3" transform="translate(1140 911.6) rotate(-21)"/>
<rect x="-17" y="-8.2" width="34" height="16.5" fill="#ea2e3c" stroke="#2a0f10" stroke-width="1.3" transform="translate(1252 899.4) rotate(-20)"/>
<rect x="-16.8" y="-8.4" width="33.6" height="16.8" fill="#ea2e3c" stroke="#2a0f10" stroke-width="1.3" transform="translate(865.6 1025.3) rotate(-67)"/>
<rect x="-17" y="-8.2" width="34" height="16.5" fill="#ea2e3c" stroke="#2a0f10" stroke-width="1.3" transform="translate(1003 1043.2) rotate(-20)"/>
<rect x="-16.8" y="-8.4" width="33.6" height="16.8" fill="#ea2e3c" stroke="#2a0f10" stroke-width="1.3" transform="translate(935.2 1081) rotate(-46.6)"/>
<rect x="-17" y="-8.2" width="34" height="16.5" fill="#ea2e3c" stroke="#2a0f10" stroke-width="1.3" transform="translate(1212.2 1098.8) rotate(-20.5)"/>
<rect x="-17" y="-8.2" width="34" height="16.5" fill="#ea2e3c" stroke="#2a0f10" stroke-width="1.3" transform="translate(1202 1321.8) rotate(-49)"/>
<rect x="-17.5" y="-8.3" width="35" height="16.6" fill="#ea2e3c" stroke="#2a0f10" stroke-width="1.3" transform="translate(1374.4 1463.9) rotate(-48)"/>
<circle cx="920.9" cy="310.3" r="14.3" fill="#3ea9ea" stroke="#1b2430" stroke-width="1.3"/>
<circle cx="386" cy="738.5" r="14.3" fill="#3ea9ea" stroke="#1b2430" stroke-width="1.3"/>
<circle cx="685.6" cy="910.3" r="14.3" fill="#3ea9ea" stroke="#1b2430" stroke-width="1.3"/>
<circle cx="939" cy="891.3" r="14.3" fill="#f5c01c" stroke="#1b2430" stroke-width="1.3"/>
<circle cx="969.7" cy="951.5" r="14.3" fill="#f5c01c" stroke="#1b2430" stroke-width="1.3"/>
<circle cx="1088.6" cy="775.3" r="14.3" fill="#189872" stroke="#1b2430" stroke-width="1.3"/>
<circle cx="836.9" cy="1017.2" r="14.3" fill="#f5c01c" stroke="#1b2430" stroke-width="1.3"/>
<circle cx="956" cy="1105" r="14.3" fill="#f5c01c" stroke="#1b2430" stroke-width="1.3"/>
<circle cx="1211.4" cy="1062.4" r="14.3" fill="#189872" stroke="#1b2430" stroke-width="1.3"/>
<circle cx="1179.4" cy="1295.5" r="14.3" fill="#3ea9ea" stroke="#1b2430" stroke-width="1.3"/>
<circle cx="1350.9" cy="1443.8" r="14.3" fill="#3ea9ea" stroke="#1b2430" stroke-width="1.3"/>
<rect x="930.2" y="326.3" width="53.5" height="48.1" fill="#fff" stroke="#141414" stroke-width="1.6"/>
<text x="957" y="363" font-size="34.8" font-weight="bold" fill="#1a1c1c" stroke="#1a1c1c" stroke-width="1.1" text-anchor="middle" textLength="37" lengthAdjust="spacingAndGlyphs">89</text>
<rect x="316" y="748.5" width="54.3" height="47.2" fill="#fff" stroke="#141414" stroke-width="1.6"/>
<text x="343.1" y="784.7" font-size="34.8" font-weight="bold" fill="#1a1c1c" stroke="#1a1c1c" stroke-width="1.1" text-anchor="middle" textLength="37" lengthAdjust="spacingAndGlyphs">88</text>
<rect x="684.8" y="832" width="52.9" height="46.6" fill="#fff" stroke="#141414" stroke-width="1.6"/>
<text x="711.2" y="867.9" font-size="34.8" font-weight="bold" fill="#1a1c1c" stroke="#1a1c1c" stroke-width="1.1" text-anchor="middle" textLength="37" lengthAdjust="spacingAndGlyphs">77</text>
<rect x="958.8" y="834.4" width="53.4" height="46.6" fill="#fff" stroke="#141414" stroke-width="1.6"/>
<text x="985.5" y="870.3" font-size="34.8" font-weight="bold" fill="#1a1c1c" stroke="#1a1c1c" stroke-width="1.1" text-anchor="middle" textLength="37" lengthAdjust="spacingAndGlyphs">82</text>
<rect x="983.2" y="896.2" width="52.8" height="47.2" fill="#fff" stroke="#141414" stroke-width="1.6"/>
<text x="1009.6" y="932.4" font-size="34.8" font-weight="bold" fill="#1a1c1c" stroke="#1a1c1c" stroke-width="1.1" text-anchor="middle" textLength="37" lengthAdjust="spacingAndGlyphs">81</text>
<rect x="1108.4" y="724.6" width="53.4" height="47.4" fill="#fff" stroke="#141414" stroke-width="1.6"/>
<text x="1135.1" y="760.9" font-size="34.8" font-weight="bold" fill="#1a1c1c" stroke="#1a1c1c" stroke-width="1.1" text-anchor="middle" textLength="37" lengthAdjust="spacingAndGlyphs">85</text>
<rect x="1130" y="842" width="53.5" height="46.6" fill="#fff" stroke="#141414" stroke-width="1.6"/>
<text x="1156.8" y="877.9" font-size="34.8" font-weight="bold" fill="#1a1c1c" stroke="#1a1c1c" stroke-width="1.1" text-anchor="middle" textLength="37" lengthAdjust="spacingAndGlyphs">83</text>
<rect x="1271.8" y="850" width="53.4" height="46.7" fill="#fff" stroke="#141414" stroke-width="1.6"/>
<text x="1298.5" y="886" font-size="34.8" font-weight="bold" fill="#1a1c1c" stroke="#1a1c1c" stroke-width="1.1" text-anchor="middle" textLength="37" lengthAdjust="spacingAndGlyphs">87</text>
<rect x="764.2" y="984.4" width="53.4" height="47.4" fill="#fff" stroke="#141414" stroke-width="1.6"/>
<text x="790.9" y="1020.7" font-size="34.8" font-weight="bold" fill="#1a1c1c" stroke="#1a1c1c" stroke-width="1.1" text-anchor="middle" textLength="37" lengthAdjust="spacingAndGlyphs">76</text>
<rect x="1014.4" y="1053" width="53.3" height="47.4" fill="#fff" stroke="#141414" stroke-width="1.6"/>
<text x="1041" y="1089.3" font-size="34.8" font-weight="bold" fill="#1a1c1c" stroke="#1a1c1c" stroke-width="1.1" text-anchor="middle" textLength="37" lengthAdjust="spacingAndGlyphs">83</text>
<rect x="924.7" y="1127.5" width="52.8" height="48" fill="#fff" stroke="#141414" stroke-width="1.6"/>
<text x="951.1" y="1164.1" font-size="34.8" font-weight="bold" fill="#1a1c1c" stroke="#1a1c1c" stroke-width="1.1" text-anchor="middle" textLength="37" lengthAdjust="spacingAndGlyphs">78</text>
<rect x="1233" y="1033" width="54.3" height="48" fill="#fff" stroke="#141414" stroke-width="1.6"/>
<text x="1260.2" y="1069.6" font-size="34.8" font-weight="bold" fill="#1a1c1c" stroke="#1a1c1c" stroke-width="1.1" text-anchor="middle" textLength="37" lengthAdjust="spacingAndGlyphs">86</text>
<rect x="1091.3" y="1296" width="53.7" height="47.5" fill="#fff" stroke="#141414" stroke-width="1.6"/>
<text x="1118.2" y="1332.3" font-size="34.8" font-weight="bold" fill="#1a1c1c" stroke="#1a1c1c" stroke-width="1.1" text-anchor="middle" textLength="37" lengthAdjust="spacingAndGlyphs">79</text>
<rect x="1336.1" y="1376" width="53.9" height="47" fill="#fff" stroke="#141414" stroke-width="1.6"/>
<text x="1363" y="1412.1" font-size="34.8" font-weight="bold" fill="#1a1c1c" stroke="#1a1c1c" stroke-width="1.1" text-anchor="middle" textLength="37" lengthAdjust="spacingAndGlyphs">80</text>
<path d="M962.5,401.5 L984.4,401.5 L985,378.7 L1028,401.5 L1124,401.5 Q1132.5,401.5 1132.5,410 L1132.5,453 Q1132.5,461.5 1124,461.5 L962.5,461.5 Q954,461.5 954,453 L954,410 Q954,401.5 962.5,401.5 Z" fill="#fff200" stroke="#c8141c" stroke-width="1.8" stroke-linejoin="miter"/>
<text x="1043.2" y="425.8" font-size="17.4" font-weight="bold" fill="#161a26" stroke="#161a26" stroke-width="0.45" text-anchor="middle">STRADA GHISIOLO</text>
<text x="1043.2" y="453.5" font-size="17.4" font-weight="bold" fill="#161a26" stroke="#161a26" stroke-width="0.45" text-anchor="middle">VIA MARCONI</text>
<path d="M1008,544.4 L1169,544.4 Q1177.5,544.4 1177.5,552.9 L1177.5,595.5 Q1177.5,604 1169,604 L1073,604 L1021.7,890 L1028.5,604 L1008,604 Q999.5,604 999.5,595.5 L999.5,552.9 Q999.5,544.4 1008,544.4 Z" fill="#fff200" stroke="#c8141c" stroke-width="1.8" stroke-linejoin="miter"/>
<text x="1088.5" y="568.7" font-size="17.4" font-weight="bold" fill="#161a26" stroke="#161a26" stroke-width="0.45" text-anchor="middle">VIA LEGNAGO</text>
<text x="1088.5" y="596.4" font-size="17.4" font-weight="bold" fill="#161a26" stroke="#161a26" stroke-width="0.45" text-anchor="middle">VIA ROMAGNOSI</text>
<path d="M636.5,638 L797.2,638 Q805.7,638 805.7,646.5 L805.7,688.2 Q805.7,696.7 797.2,696.7 L702,696.7 L705.4,823.6 L658.5,696.7 L636.5,696.7 Q628,696.7 628,688.2 L628,646.5 Q628,638 636.5,638 Z" fill="#fff200" stroke="#c8141c" stroke-width="1.8" stroke-linejoin="miter"/>
<text x="716.9" y="662.3" font-size="17.4" font-weight="bold" fill="#161a26" stroke="#161a26" stroke-width="0.45" text-anchor="middle">V.LE FAVORITA</text>
<text x="716.9" y="690" font-size="17.4" font-weight="bold" fill="#161a26" stroke="#161a26" stroke-width="0.45" text-anchor="middle">ROTATORIA BRICO</text>
<path d="M225.1,842.5 L321.5,842.5 L348.6,803 L365.7,842.5 L387,842.5 Q395.5,842.5 395.5,851 L395.5,892.3 Q395.5,900.8 387,900.8 L225.1,900.8 Q216.6,900.8 216.6,892.3 L216.6,851 Q216.6,842.5 225.1,842.5 Z" fill="#fff200" stroke="#c8141c" stroke-width="1.8" stroke-linejoin="miter"/>
<text x="306.1" y="866.8" font-size="17.4" font-weight="bold" fill="#161a26" stroke="#161a26" stroke-width="0.45" text-anchor="middle">V.LE FAVORITA</text>
<text x="306.1" y="894.5" font-size="17.4" font-weight="bold" fill="#161a26" stroke="#161a26" stroke-width="0.45" text-anchor="middle">VIA LEGNAGO</text>
<path d="M845.4,756.4 L1007.2,756.4 Q1015.7,756.4 1015.7,764.9 L1015.7,805.5 Q1015.7,814 1007.2,814 L985,814 L982,826 L939,814 L845.4,814 Q836.9,814 836.9,805.5 L836.9,764.9 Q836.9,756.4 845.4,756.4 Z" fill="#fff200" stroke="#c8141c" stroke-width="1.8" stroke-linejoin="miter"/>
<text x="926.3" y="780.7" font-size="17.4" font-weight="bold" fill="#161a26" stroke="#161a26" stroke-width="0.45" text-anchor="middle">VIA ROMAGNOSI</text>
<text x="926.3" y="808.4" font-size="17.4" font-weight="bold" fill="#161a26" stroke="#161a26" stroke-width="0.45" text-anchor="middle">VIA ZANELLINI</text>
<path d="M1194.9,621 L1370.4,621 Q1378.9,621 1378.9,629.5 L1378.9,672.2 Q1378.9,680.7 1370.4,680.7 L1265.6,680.7 L1164,722 L1219.5,680.7 L1194.9,680.7 Q1186.4,680.7 1186.4,672.2 L1186.4,629.5 Q1186.4,621 1194.9,621 Z" fill="#fff200" stroke="#c8141c" stroke-width="1.8" stroke-linejoin="miter"/>
<text x="1282.7" y="645.3" font-size="17.4" font-weight="bold" fill="#161a26" stroke="#161a26" stroke-width="0.45" text-anchor="middle">TANGENZIALE NORD</text>
<text x="1282.7" y="673" font-size="17.4" font-weight="bold" fill="#161a26" stroke="#161a26" stroke-width="0.45" text-anchor="middle">VIA LEGNAGO</text>
<path d="M1209.5,718.6 L1385.8,718.6 Q1394.3,718.6 1394.3,727.1 L1394.3,768.5 Q1394.3,777 1385.8,777 L1280.5,777 L1181.6,838.4 L1233,777 L1209.5,777 Q1201,777 1201,768.5 L1201,727.1 Q1201,718.6 1209.5,718.6 Z" fill="#fff200" stroke="#c8141c" stroke-width="1.8" stroke-linejoin="miter"/>
<text x="1297.7" y="742.9" font-size="17.4" font-weight="bold" fill="#161a26" stroke="#161a26" stroke-width="0.45" text-anchor="middle">VIA LEGNAGO</text>
<text x="1297.7" y="770.6" font-size="17.4" font-weight="bold" fill="#161a26" stroke="#161a26" stroke-width="0.45" text-anchor="middle">TANGENZIALE NORD</text>
<path d="M1346.7,801 L1524,801 Q1532.5,801 1532.5,809.5 L1532.5,851.1 Q1532.5,859.6 1524,859.6 L1418.7,859.6 L1327.4,872.3 L1375.3,859.6 L1346.7,859.6 Q1338.2,859.6 1338.2,851.1 L1338.2,809.5 Q1338.2,801 1346.7,801 Z" fill="#fff200" stroke="#c8141c" stroke-width="1.8" stroke-linejoin="miter"/>
<text x="1435.3" y="825.3" font-size="17.4" font-weight="bold" fill="#161a26" stroke="#161a26" stroke-width="0.45" text-anchor="middle">TANGENZIALE NORD</text>
<text x="1435.3" y="853" font-size="17.4" font-weight="bold" fill="#161a26" stroke="#161a26" stroke-width="0.45" text-anchor="middle">CONTROSTRADA</text>
<path d="M540.5,1019.6 L636.9,1019.6 L714,996.6 L681.6,1019.6 L701.5,1019.6 Q710,1019.6 710,1028.1 L710,1070.2 Q710,1078.7 701.5,1078.7 L540.5,1078.7 Q532,1078.7 532,1070.2 L532,1028.1 Q532,1019.6 540.5,1019.6 Z" fill="#fff200" stroke="#c8141c" stroke-width="1.8" stroke-linejoin="miter"/>
<text x="621" y="1043.9" font-size="17.4" font-weight="bold" fill="#161a26" stroke="#161a26" stroke-width="0.45" text-anchor="middle">VIA LEGNAGO</text>
<text x="621" y="1071.6" font-size="17.4" font-weight="bold" fill="#161a26" stroke="#161a26" stroke-width="0.45" text-anchor="middle">VIALE FAVORITA</text>
<path d="M746.5,1188.5 L842.8,1188.5 L920.6,1163.8 L886.2,1188.5 L907.5,1188.5 Q916,1188.5 916,1197 L916,1238.2 Q916,1246.7 907.5,1246.7 L746.5,1246.7 Q738,1246.7 738,1238.2 L738,1197 Q738,1188.5 746.5,1188.5 Z" fill="#fff200" stroke="#c8141c" stroke-width="1.8" stroke-linejoin="miter"/>
<text x="827" y="1212.8" font-size="17.4" font-weight="bold" fill="#161a26" stroke="#161a26" stroke-width="0.45" text-anchor="middle">VIA LEGNAGO</text>
<text x="827" y="1240.5" font-size="17.4" font-weight="bold" fill="#161a26" stroke="#161a26" stroke-width="0.45" text-anchor="middle">VIA OSTIGLIA</text>
<path d="M880.5,1264.3 L986.4,1264.3 L1033.3,1109 L1035.2,1264.3 L1058.7,1264.3 Q1067.2,1264.3 1067.2,1272.8 L1067.2,1314.1 Q1067.2,1322.6 1058.7,1322.6 L880.5,1322.6 Q872,1322.6 872,1314.1 L872,1272.8 Q872,1264.3 880.5,1264.3 Z" fill="#fff200" stroke="#c8141c" stroke-width="1.8" stroke-linejoin="miter"/>
<text x="969.6" y="1288.6" font-size="17.4" font-weight="bold" fill="#161a26" stroke="#161a26" stroke-width="0.45" text-anchor="middle">VIA LEGNAGO</text>
<text x="969.6" y="1316.3" font-size="17.4" font-weight="bold" fill="#161a26" stroke="#161a26" stroke-width="0.45" text-anchor="middle">ALDI</text>
<path d="M935.7,1369.9 L1042,1369.9 L1100,1349.8 L1091.4,1369.9 L1114.6,1369.9 Q1123.1,1369.9 1123.1,1378.4 L1123.1,1421.4 Q1123.1,1429.9 1114.6,1429.9 L935.7,1429.9 Q927.2,1429.9 927.2,1421.4 L927.2,1378.4 Q927.2,1369.9 935.7,1369.9 Z" fill="#fff200" stroke="#c8141c" stroke-width="1.8" stroke-linejoin="miter"/>
<text x="1025.2" y="1394.2" font-size="17.4" font-weight="bold" fill="#161a26" stroke="#161a26" stroke-width="0.45" text-anchor="middle">VIA OSTIGLIA</text>
<text x="1025.2" y="1421.9" font-size="17.4" font-weight="bold" fill="#161a26" stroke="#161a26" stroke-width="0.45" text-anchor="middle">VIA S. GEMINIANO</text>
<path d="M1329.1,1105 L1355,1105 L1291.3,1071 L1399.7,1105 L1504.5,1105 Q1513,1105 1513,1113.5 L1513,1155.3 Q1513,1163.8 1504.5,1163.8 L1329.1,1163.8 Q1320.6,1163.8 1320.6,1155.3 L1320.6,1113.5 Q1320.6,1105 1329.1,1105 Z" fill="#fff200" stroke="#c8141c" stroke-width="1.8" stroke-linejoin="miter"/>
<text x="1416.8" y="1129.3" font-size="17.4" font-weight="bold" fill="#161a26" stroke="#161a26" stroke-width="0.45" text-anchor="middle">TANGENZIALE NORD</text>
<text x="1416.8" y="1157" font-size="17.4" font-weight="bold" fill="#161a26" stroke="#161a26" stroke-width="0.45" text-anchor="middle">VIA LEGNAGO</text>
<path d="M1384.5,1284.5 L1562.8,1284.5 Q1571.3,1284.5 1571.3,1293 L1571.3,1334.9 Q1571.3,1343.4 1562.8,1343.4 L1456,1343.4 L1396.3,1387.3 L1408.9,1343.4 L1384.5,1343.4 Q1376,1343.4 1376,1334.9 L1376,1293 Q1376,1284.5 1384.5,1284.5 Z" fill="#fff200" stroke="#c8141c" stroke-width="1.8" stroke-linejoin="miter"/>
<text x="1473.7" y="1308.8" font-size="17.4" font-weight="bold" fill="#161a26" stroke="#161a26" stroke-width="0.45" text-anchor="middle">VIA OSTIGLIA</text>
<text x="1473.7" y="1336.5" font-size="17.4" font-weight="bold" fill="#161a26" stroke="#161a26" stroke-width="0.45" text-anchor="middle">TANGENZIALE NORD</text>
<use href="#ic_helmet" x="1142" y="396.5"/>
<rect x="1142.7" y="445.2" width="43.6" height="22.6" fill="#fff" stroke="#1a1a1a" stroke-width="1.5"/>
<text x="1164.5" y="463.5" font-size="20" font-weight="bold" fill="#111" text-anchor="middle">1</text>
<use href="#ic_trans" x="1191.3" y="395.5"/>
<rect x="1192" y="444.2" width="43.6" height="22.6" fill="#fff" stroke="#1a1a1a" stroke-width="1.5"/>
<text x="1213.8" y="462.5" font-size="20" font-weight="bold" fill="#111" text-anchor="middle">1</text>
<use href="#ic_pc" x="1183" y="538.4"/>
<rect x="1183.7" y="587.1" width="43.6" height="22.6" fill="#dcebf6" stroke="#1a1a1a" stroke-width="1.5"/>
<text x="1205.5" y="605.4" font-size="20" font-weight="bold" fill="#1a6cc4" text-anchor="middle">1</text>
<use href="#ic_trans" x="1232.5" y="539.5"/>
<rect x="1233.2" y="588.2" width="43.6" height="22.6" fill="#fff" stroke="#1a1a1a" stroke-width="1.5"/>
<text x="1255" y="606.5" font-size="20" font-weight="bold" fill="#111" text-anchor="middle">1</text>
<use href="#ic_trans" x="1401.6" y="711.6"/>
<rect x="1402.3" y="760.3" width="43.6" height="22.6" fill="#fff" stroke="#1a1a1a" stroke-width="1.5"/>
<text x="1424.1" y="778.6" font-size="20" font-weight="bold" fill="#111" text-anchor="middle">1</text>
<use href="#ic_trans" x="1539.3" y="794.5"/>
<rect x="1540" y="843.2" width="43.6" height="22.6" fill="#fff" stroke="#1a1a1a" stroke-width="1.5"/>
<text x="1561.8" y="861.5" font-size="20" font-weight="bold" fill="#111" text-anchor="middle">1</text>
<use href="#ic_trans" x="531" y="633"/>
<rect x="531.7" y="681.7" width="43.6" height="22.6" fill="#fff" stroke="#1a1a1a" stroke-width="1.5"/>
<text x="553.5" y="700" font-size="20" font-weight="bold" fill="#111" text-anchor="middle">1</text>
<use href="#ic_helmet" x="581" y="633"/>
<rect x="581.7" y="681.7" width="43.6" height="22.6" fill="#fff" stroke="#1a1a1a" stroke-width="1.5"/>
<text x="603.5" y="700" font-size="20" font-weight="bold" fill="#111" text-anchor="middle">1</text>
<use href="#ic_trans" x="738.5" y="751"/>
<rect x="739.2" y="799.7" width="43.6" height="22.6" fill="#fff" stroke="#1a1a1a" stroke-width="1.5"/>
<text x="761" y="818" font-size="20" font-weight="bold" fill="#111" text-anchor="middle">1</text>
<use href="#ic_helmet" x="789.4" y="751.8"/>
<rect x="790.1" y="800.5" width="43.6" height="22.6" fill="#fff" stroke="#1a1a1a" stroke-width="1.5"/>
<text x="811.9" y="818.8" font-size="20" font-weight="bold" fill="#111" text-anchor="middle">1</text>
<use href="#ic_trans" x="114" y="839"/>
<rect x="114.7" y="887.7" width="43.6" height="22.6" fill="#fff" stroke="#1a1a1a" stroke-width="1.5"/>
<text x="136.5" y="906" font-size="20" font-weight="bold" fill="#111" text-anchor="middle">1</text>
<use href="#ic_helmet" x="165" y="839"/>
<rect x="165.7" y="887.7" width="43.6" height="22.6" fill="#fff" stroke="#1a1a1a" stroke-width="1.5"/>
<text x="187.5" y="906" font-size="20" font-weight="bold" fill="#111" text-anchor="middle">1</text>
<use href="#ic_trans" x="430.7" y="1014.4"/>
<rect x="431.4" y="1063.1" width="43.6" height="22.6" fill="#fff" stroke="#1a1a1a" stroke-width="1.5"/>
<text x="453.2" y="1081.4" font-size="20" font-weight="bold" fill="#111" text-anchor="middle">1</text>
<use href="#ic_pc" x="480.9" y="1013.8"/>
<rect x="481.6" y="1062.5" width="43.6" height="22.6" fill="#dcebf6" stroke="#1a1a1a" stroke-width="1.5"/>
<text x="503.4" y="1080.8" font-size="20" font-weight="bold" fill="#1a6cc4" text-anchor="middle">1</text>
<use href="#ic_trans" x="637.4" y="1183"/>
<rect x="638.1" y="1231.7" width="43.6" height="22.6" fill="#fff" stroke="#1a1a1a" stroke-width="1.5"/>
<text x="659.9" y="1250" font-size="20" font-weight="bold" fill="#111" text-anchor="middle">1</text>
<use href="#ic_pc" x="687.5" y="1182.2"/>
<rect x="688.2" y="1230.9" width="43.6" height="22.6" fill="#dcebf6" stroke="#1a1a1a" stroke-width="1.5"/>
<text x="710" y="1249.2" font-size="20" font-weight="bold" fill="#1a6cc4" text-anchor="middle">1</text>
<use href="#ic_trans" x="820.6" y="1259.5"/>
<rect x="821.3" y="1308.2" width="43.6" height="22.6" fill="#fff" stroke="#1a1a1a" stroke-width="1.5"/>
<text x="843.1" y="1326.5" font-size="20" font-weight="bold" fill="#111" text-anchor="middle">1</text>
<use href="#ic_helmet" x="826.7" y="1365"/>
<rect x="827.4" y="1413.7" width="43.6" height="22.6" fill="#fff" stroke="#1a1a1a" stroke-width="1.5"/>
<text x="849.2" y="1432" font-size="20" font-weight="bold" fill="#111" text-anchor="middle">4</text>
<use href="#ic_trans" x="875.3" y="1365.6"/>
<rect x="876" y="1414.3" width="43.6" height="22.6" fill="#fff" stroke="#1a1a1a" stroke-width="1.5"/>
<text x="897.8" y="1432.6" font-size="20" font-weight="bold" fill="#111" text-anchor="middle">1</text>
<use href="#ic_helmet" x="1579.1" y="1282.3"/>
<rect x="1579.8" y="1331" width="43.6" height="22.6" fill="#fff" stroke="#1a1a1a" stroke-width="1.5"/>
<text x="1601.6" y="1349.3" font-size="20" font-weight="bold" fill="#111" text-anchor="middle">1</text>
<use href="#ic_trans" x="1628.3" y="1282.3"/>
<rect x="1629" y="1331" width="43.6" height="22.6" fill="#fff" stroke="#1a1a1a" stroke-width="1.5"/>
<text x="1650.8" y="1349.3" font-size="20" font-weight="bold" fill="#111" text-anchor="middle">1</text>
<use href="#ic_prov" x="1388" y="625.5"/>
<use href="#ic_prov" x="1520.3" y="1110.4"/>
<rect x="1806" y="962.2" width="535" height="585.5" fill="#fdfcf2" stroke="#141414" stroke-width="2"/>
<rect x="1819.3" y="972.8" width="507" height="91.4" fill="#fff200" stroke="#2a2a2a" stroke-width="1.6"/>
<text x="2070" y="1011.6" font-size="30.5" font-weight="bold" fill="#1c1c1c" stroke="#1c1c1c" stroke-width="0.6" text-anchor="middle" textLength="131" lengthAdjust="spacingAndGlyphs">TAVOLA 8</text>
<text x="2072.5" y="1051.8" font-size="29.6" font-weight="bold" fill="#1c1c1c" stroke="#1c1c1c" stroke-width="0.6" text-anchor="middle" textLength="473" lengthAdjust="spacingAndGlyphs">VIA LEGNAGO-TANGENZIALE NORD</text>
<path d="M1896,1084 L1939,1084 Q1946.4,1084 1946.4,1091 L1946.4,1114 Q1946.4,1121.3 1939,1121.3 L1935,1121.3 L1952.6,1132.5 L1922,1121.3 L1896,1121.3 Q1888.8,1121.3 1888.8,1114 L1888.8,1091 Q1888.8,1084 1896,1084 Z" fill="#fff200" stroke="#111" stroke-width="1.8"/>
<rect x="1963.8" y="1087.8" width="285" height="30.5" fill="#fff" stroke="#1a1a1a" stroke-width="1.6"/>
<text x="1971.2" y="1114.3" font-size="18.9" font-weight="bold" fill="#111" transform="scale(1 1)" stroke="#111" stroke-width="0.35" textLength="157.7" lengthAdjust="spacingAndGlyphs">PUNTI DI PRESIDIO</text>
<rect x="1963.8" y="1149.9" width="285" height="31" fill="#fff" stroke="#1a1a1a" stroke-width="1.6"/>
<text x="1971.2" y="1176.4" font-size="18.9" font-weight="bold" fill="#111" transform="scale(1 1)" stroke="#111" stroke-width="0.35" textLength="238.4" lengthAdjust="spacingAndGlyphs">PERSONALE POLIZIA LOCALE</text>
<rect x="1962.5" y="1238.6" width="285.5" height="31.8" fill="#fff" stroke="#1a1a1a" stroke-width="1.6"/>
<text x="1969.9" y="1266" font-size="18.9" font-weight="bold" fill="#111" transform="scale(1 1)" stroke="#111" stroke-width="0.35" textLength="268.9" lengthAdjust="spacingAndGlyphs">PERSONALE PROTEZIONE CIVILE</text>
<rect x="1965.5" y="1342.9" width="334.7" height="42.1" fill="#fff" stroke="#1a1a1a" stroke-width="1.6"/>
<text x="1972.9" y="1369.5" font-size="18.9" font-weight="bold" fill="#111" transform="scale(1 1)" stroke="#111" stroke-width="0.35" textLength="315.5" lengthAdjust="spacingAndGlyphs">PERSONALE PROVINCIA DI MANTOVA</text>
<rect x="1967.5" y="1416.1" width="285.5" height="31.1" fill="#fff" stroke="#1a1a1a" stroke-width="1.6"/>
<text x="1974.9" y="1443.4" font-size="18.9" font-weight="bold" fill="#111" transform="scale(1 1)" stroke="#111" stroke-width="0.35" textLength="103" lengthAdjust="spacingAndGlyphs">TRANSENNE</text>
<rect x="1966.3" y="1494.8" width="285" height="31.1" fill="#fff" stroke="#1a1a1a" stroke-width="1.6"/>
<text x="1973.7" y="1521.6" font-size="18.9" font-weight="bold" fill="#111" transform="scale(1 1)" stroke="#111" stroke-width="0.35" textLength="122.9" lengthAdjust="spacingAndGlyphs">SBARRAMENTI</text>
<circle cx="1873.9" cy="1172.2" r="14.3" fill="#3ea9ea" stroke="#1b2430" stroke-width="1.3"/>
<use href="#ic_helmet" x="1897.2" y="1145.4"/>
<rect x="1898" y="1194.7" width="43.6" height="22.6" fill="#fff" stroke="#1a1a1a" stroke-width="1.5"/>
<text x="1919.8" y="1213" font-size="20" font-weight="bold" fill="#111" text-anchor="middle">n</text>
<circle cx="1873.9" cy="1256" r="14.3" fill="#f5c01c" stroke="#1b2430" stroke-width="1.3"/>
<use href="#ic_pc" x="1896.3" y="1235"/>
<rect x="1897.3" y="1284" width="43.6" height="22.6" fill="#dcebf6" stroke="#1a1a1a" stroke-width="1.5"/>
<text x="1919.1" y="1302.3" font-size="20" font-weight="bold" fill="#1a6cc4" text-anchor="middle">n</text>
<circle cx="1876.4" cy="1360.3" r="14.3" fill="#189872" stroke="#1b2430" stroke-width="1.3"/>
<use href="#ic_prov" x="1898" y="1333.5"/>
<use href="#ic_trans" x="1897.2" y="1410"/>
<rect x="1898" y="1458.5" width="43.6" height="22.6" fill="#fff" stroke="#1a1a1a" stroke-width="1.5"/>
<text x="1919.8" y="1476.8" font-size="20" font-weight="bold" fill="#c8141c" text-anchor="middle">n</text>
<rect x="1901.7" y="1502.3" width="36" height="17.6" fill="#e4232d" stroke="#6a1a1a" stroke-width="0.8"/>
</svg></body></html>
